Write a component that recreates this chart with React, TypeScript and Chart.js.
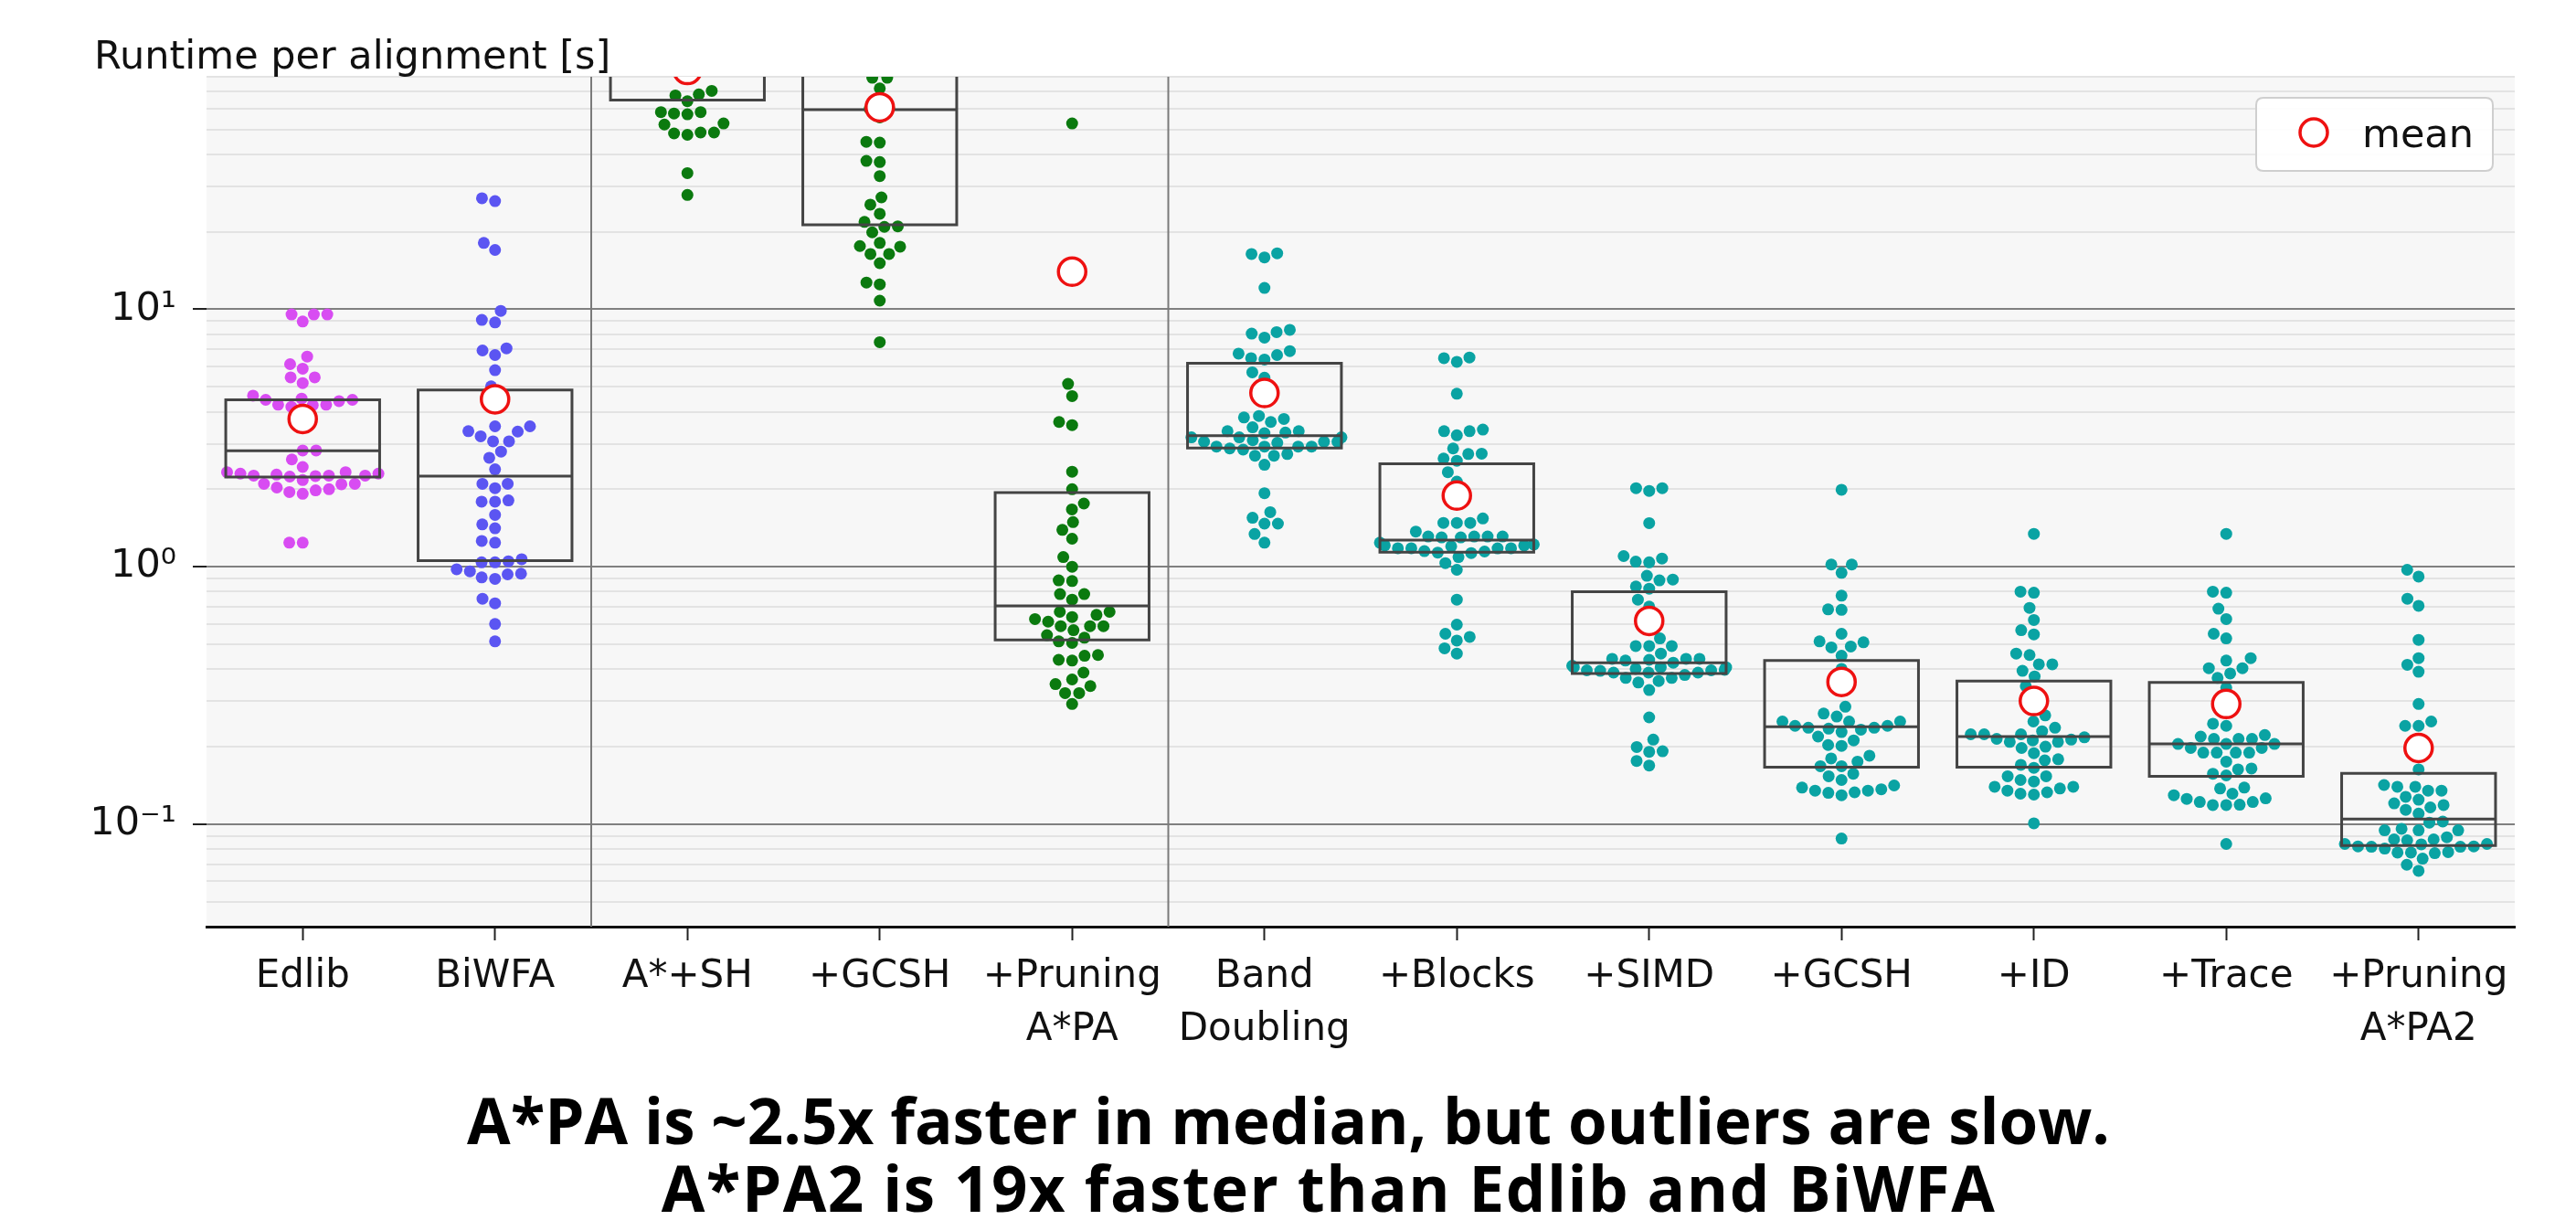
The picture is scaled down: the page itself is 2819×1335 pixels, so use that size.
import React, { useEffect, useRef } from 'react';
import { Chart, registerables } from 'chart.js';

Chart.register(...registerables);

// ---------------- data ----------------
const categories = [
  'Edlib', 'BiWFA', 'A*+SH', '+GCSH', '+Pruning\nA*PA', 'Band\nDoubling',
  '+Blocks', '+SIMD', '+GCSH', '+ID', '+Trace', '+Pruning\nA*PA2',
];

const edlib = [9.55, 9.55, 9.55, 8.96, 6.55, 6.12, 5.88, 5.44, 5.44, 5.17, 4.62, 4.5, 4.45, 4.45, 4.4, 4.26, 4.26, 4.24, 4.18, 3.93, 2.83, 2.83, 2.61, 2.44, 2.33, 2.33, 2.3, 2.3, 2.28, 2.26, 2.26, 2.26, 2.25, 2.24, 2.17, 2.1, 2.1, 2.09, 2.03, 2.0, 1.98, 1.95, 1.92, 1.24, 1.24];
const biwfa = [27.0, 26.3, 18.1, 17.0, 9.86, 9.09, 8.89, 7.05, 6.92, 6.64, 5.8, 5.02, 4.5, 3.51, 3.51, 3.36, 3.35, 3.21, 3.07, 3.07, 2.8, 2.65, 2.39, 2.1, 2.1, 2.02, 1.81, 1.79, 1.79, 1.59, 1.46, 1.41, 1.26, 1.24, 1.07, 1.05, 1.04, 1.04, 0.978, 0.96, 0.94, 0.934, 0.909, 0.897, 0.751, 0.721, 0.599, 0.513];
const astarSH = [70.5, 68.3, 67.7, 64.3, 58.3, 58.3, 57.6, 57.2, 52.7, 52.2, 48.6, 48.6, 48.2, 47.6, 33.8, 27.8];
const astarGCSH = [79.3, 79.3, 72.1, 60.4, 60.0, 55.6, 44.7, 44.4, 37.7, 37.3, 32.9, 27.2, 25.5, 23.5, 21.85, 21.0, 20.9, 19.9, 18.1, 17.6, 17.5, 16.4, 16.4, 15.1, 12.7, 12.5, 10.8, 7.45];
const astarPA = [52.7, 5.13, 4.6, 3.65, 3.55, 2.34, 2.0, 1.76, 1.67, 1.49, 1.39, 1.285, 1.09, 1.0, 0.885, 0.88, 0.783, 0.783, 0.745, 0.668, 0.668, 0.65, 0.638, 0.626, 0.612, 0.588, 0.588, 0.588, 0.567, 0.542, 0.53, 0.513, 0.506, 0.454, 0.451, 0.435, 0.432, 0.388, 0.365, 0.35, 0.344, 0.323, 0.323, 0.293];
const bandDoubling = [16.5, 16.4, 15.9, 12.1, 8.32, 8.15, 8.04, 7.76, 6.88, 6.73, 6.64, 6.46, 6.38, 5.69, 5.42, 3.85, 3.8, 3.75, 3.65, 3.48, 3.36, 3.36, 3.32, 3.3, 3.18, 3.18, 3.18, 3.1, 3.06, 3.06, 3.06, 3.03, 2.93, 2.93, 2.93, 2.93, 2.88, 2.85, 2.74, 2.7, 2.7, 2.49, 1.93, 1.63, 1.55, 1.47, 1.47, 1.34, 1.24];
const blocks = [6.5, 6.46, 6.25, 4.7, 3.41, 3.36, 3.36, 3.24, 2.88, 2.75, 2.74, 2.63, 2.58, 2.33, 2.14, 1.54, 1.48, 1.48, 1.48, 1.37, 1.31, 1.31, 1.31, 1.31, 1.3, 1.3, 1.24, 1.22, 1.21, 1.21, 1.2, 1.18, 1.18, 1.18, 1.178, 1.15, 1.146, 1.135, 1.13, 1.09, 1.033, 0.973, 0.745, 0.596, 0.549, 0.534, 0.517, 0.482, 0.46];
const simd = [2.02, 2.02, 1.97, 1.477, 1.1, 1.076, 1.047, 1.04, 0.922, 0.892, 0.885, 0.838, 0.822, 0.745, 0.7, 0.527, 0.492, 0.492, 0.492, 0.46, 0.439, 0.439, 0.439, 0.435, 0.432, 0.424, 0.4125, 0.407, 0.407, 0.407, 0.401, 0.398, 0.396, 0.396, 0.394, 0.388, 0.388, 0.388, 0.38, 0.37, 0.37, 0.36, 0.355, 0.332, 0.26, 0.213, 0.1995, 0.192, 0.191, 0.176, 0.169];
const gcsh2 = [1.99, 1.02, 1.02, 0.947, 0.772, 0.683, 0.68, 0.549, 0.513, 0.509, 0.49, 0.486, 0.451, 0.401, 0.35, 0.286, 0.269, 0.262, 0.2506, 0.2506, 0.2506, 0.241, 0.241, 0.237, 0.237, 0.235, 0.233, 0.228, 0.219, 0.2116, 0.203, 0.2015, 0.1845, 0.18, 0.175, 0.168, 0.168, 0.157, 0.1535, 0.1485, 0.1414, 0.1387, 0.1367, 0.135, 0.135, 0.133, 0.1324, 0.1296, 0.088];
const idOpt = [1.342, 0.8, 0.793, 0.692, 0.621, 0.567, 0.546, 0.46, 0.454, 0.418, 0.418, 0.394, 0.375, 0.344, 0.314, 0.2646, 0.2506, 0.237, 0.2297, 0.2235, 0.2235, 0.2235, 0.2175, 0.2145, 0.213, 0.2116, 0.2087, 0.2087, 0.2, 0.1977, 0.1888, 0.1787, 0.177, 0.17, 0.1656, 0.1535, 0.1535, 0.1485, 0.1465, 0.1398, 0.1398, 0.1376, 0.135, 0.133, 0.1314, 0.1303, 0.1008];
const trace = [1.342, 0.8, 0.793, 0.687, 0.626, 0.549, 0.527, 0.4416, 0.432, 0.4036, 0.4036, 0.385, 0.37, 0.339, 0.2457, 0.241, 0.222, 0.219, 0.2145, 0.2145, 0.2145, 0.205, 0.205, 0.205, 0.1977, 0.1977, 0.1897, 0.1897, 0.1897, 0.1897, 0.175, 0.1646, 0.1633, 0.157, 0.1547, 0.1387, 0.1376, 0.1314, 0.1296, 0.126, 0.1254, 0.122, 0.122, 0.119, 0.1187, 0.1187, 0.0838];
const astarPA2 = [0.973, 0.916, 0.751, 0.705, 0.52, 0.4416, 0.416, 0.391, 0.293, 0.2506, 0.241, 0.241, 0.1633, 0.142, 0.1398, 0.1398, 0.135, 0.135, 0.1278, 0.1245, 0.1205, 0.1187, 0.1162, 0.1137, 0.11, 0.1024, 0.1014, 0.096, 0.0947, 0.0947, 0.0947, 0.089, 0.0873, 0.0873, 0.0866, 0.0838, 0.0838, 0.0835, 0.082, 0.082, 0.0817, 0.0817, 0.0804, 0.0779, 0.0776, 0.0776, 0.0772, 0.0735, 0.0696, 0.0659];

const groups = [edlib, biwfa, astarSH, astarGCSH, astarPA, bandDoubling, blocks, simd, gcsh2, idOpt, trace, astarPA2];

const means = [3.75, 4.47, 85, 60.9, 14.0, 4.73, 1.89, 0.616, 0.357, 0.301, 0.293, 0.1977];
const q1s = [2.23, 1.056, 65.0, 21.3, 0.52, 2.89, 1.14, 0.385, 0.1665, 0.1665, 0.1535, 0.0827];
const medians = [2.82, 2.25, 95, 59.6, 0.705, 3.23, 1.27, 0.424, 0.239, 0.219, 0.205, 0.1047];
const q3s = [4.45, 4.86, 130, 120, 1.94, 6.17, 2.51, 0.8, 0.432, 0.36, 0.355, 0.1576];

const groupColors = ['#d84cf2', '#5b55f2', '#0b7a0f', '#0b7a0f', '#0b7a0f', '#0aa3a3', '#0aa3a3', '#0aa3a3', '#0aa3a3', '#0aa3a3', '#0aa3a3', '#0aa3a3'];

const yTickValues = [0.04, 0.05, 0.06, 0.07, 0.08, 0.09, 0.1, 0.2, 0.3, 0.4, 0.5, 0.6, 0.7, 0.8, 0.9, 1, 2, 3, 4, 5, 6, 7, 8, 9, 10, 20, 30, 40, 50, 60, 70, 80];
const yMajorValues = [0.1, 1, 10];
const yMajorLabels = ['10\u207B\u00B9', '10\u2070', '10\u00B9'];
const separatorPositions = [1.5, 4.5];
const yAxisTitle = 'Runtime per alignment [s]';
const legendLabel = 'mean';
const captionLines = [
  'A*PA is ~2.5x faster in median, but outliers are slow.',
  'A*PA2 is 19x faster than Edlib and BiWFA',
];

// ---------------- layout / style constants ----------------
const W = 2819;
const H = 1335;
const Y_MIN = 0.04;
const Y_MAX = 80;
const X_MIN = -0.5;
const X_MAX = 11.5;
const BOX_HALF = 0.4;
const DOT_R = 6.5;
const SWARM_R = 7;
const FONT = "'DejaVu Sans', sans-serif";

function majorIndex(v: number): number {
  return yMajorValues.findIndex((m) => Math.abs(v - m) / m < 1e-6);
}

// seaborn-like beeswarm in pixel space
function beeswarm(py: number[], r: number, half: number): number[] {
  const order = py.map((_, i) => i).sort((a, b) => py[b] - py[a]);
  const swarm: { x: number; y: number }[] = [];
  const out = new Array(py.length).fill(0);
  const d = 2 * r;
  for (const i of order) {
    const y = py[i];
    const neighbors: { x: number; y: number }[] = [];
    for (let k = swarm.length - 1; k >= 0; k--) {
      if (Math.abs(y - swarm[k].y) < d) neighbors.push(swarm[k]);
      else break;
    }
    const cands: number[] = [0];
    let leftFirst = true;
    for (const n of neighbors) {
      const dy = y - n.y;
      const dx = Math.sqrt(Math.max(d * d - dy * dy, 0)) * 1.05;
      if (leftFirst) cands.push(n.x - dx, n.x + dx);
      else cands.push(n.x + dx, n.x - dx);
      leftFirst = !leftFirst;
    }
    const sorted = cands
      .map((c, k) => ({ c, k }))
      .sort((a, b) => Math.abs(a.c) - Math.abs(b.c) || a.k - b.k);
    let chosen = sorted[sorted.length - 1].c;
    for (const s of sorted) {
      const ok = neighbors.every((n) => (n.x - s.c) ** 2 + (n.y - y) ** 2 >= d * d - 1e-6);
      if (ok) {
        chosen = s.c;
        break;
      }
    }
    swarm.push({ x: chosen, y });
    out[i] = Math.max(-half, Math.min(half, chosen));
  }
  return out;
}

const bgPlugin = {
  id: 'plotBg',
  beforeDraw(chart: any) {
    const { ctx, chartArea: a } = chart;
    ctx.save();
    ctx.fillStyle = '#f7f7f7';
    ctx.fillRect(a.left, a.top, a.right - a.left, a.bottom - a.top);
    ctx.restore();
  },
};

const textPlugin = {
  id: 'axisTitleLegend',
  afterDraw(chart: any) {
    const { ctx, chartArea: a } = chart;
    ctx.save();
    // y-axis title (horizontal, top-left)
    ctx.font = `43px ${FONT}`;
    ctx.fillStyle = '#111';
    ctx.textBaseline = 'alphabetic';
    ctx.textAlign = 'left';
    ctx.fillText(yAxisTitle, a.left - 123, a.top - 9);

    // legend box
    const bw = 259;
    const bh = 80;
    const bx = a.right - 24 - bw;
    const by = a.top + 23;
    const rr = 8;
    ctx.beginPath();
    ctx.moveTo(bx + rr, by);
    ctx.lineTo(bx + bw - rr, by);
    ctx.quadraticCurveTo(bx + bw, by, bx + bw, by + rr);
    ctx.lineTo(bx + bw, by + bh - rr);
    ctx.quadraticCurveTo(bx + bw, by + bh, bx + bw - rr, by + bh);
    ctx.lineTo(bx + rr, by + bh);
    ctx.quadraticCurveTo(bx, by + bh, bx, by + bh - rr);
    ctx.lineTo(bx, by + rr);
    ctx.quadraticCurveTo(bx, by, bx + rr, by);
    ctx.closePath();
    ctx.fillStyle = 'rgba(255,255,255,0.9)';
    ctx.fill();
    ctx.lineWidth = 2;
    ctx.strokeStyle = '#cfcfcf';
    ctx.stroke();

    ctx.beginPath();
    ctx.arc(bx + 63, by + 38, 15, 0, Math.PI * 2);
    ctx.fillStyle = '#ffffff';
    ctx.fill();
    ctx.lineWidth = 3.5;
    ctx.strokeStyle = '#ee1111';
    ctx.stroke();

    ctx.fillStyle = '#111';
    ctx.font = `43px ${FONT}`;
    ctx.fillText(legendLabel, bx + 116, by + 54);
    ctx.restore();
  },
};

export default function App() {
  const ref = useRef<HTMLCanvasElement>(null);

  useEffect(() => {
    const canvas = ref.current;
    if (!canvas) return;

    const dotSets = groups.map((vals, gi) => ({
      label: categories[gi],
      data: vals.map((v) => ({ x: gi, y: v })),
      pointRadius: DOT_R,
      pointHoverRadius: DOT_R,
      pointBackgroundColor: groupColors[gi],
      pointBorderWidth: 0,
      showLine: false,
      order: 3,
    }));

    const boxData: any[] = [];
    const medData: any[] = [];
    categories.forEach((_, i) => {
      const l = i - BOX_HALF;
      const r = i + BOX_HALF;
      boxData.push(
        { x: l, y: q1s[i] }, { x: l, y: q3s[i] }, { x: r, y: q3s[i] },
        { x: r, y: q1s[i] }, { x: l, y: q1s[i] }, { x: i, y: null },
      );
      medData.push({ x: l, y: medians[i] }, { x: r, y: medians[i] }, { x: i, y: null });
    });

    const sepData: any[] = [];
    separatorPositions.forEach((s) => {
      sepData.push({ x: s, y: Y_MIN }, { x: s, y: Y_MAX }, { x: s, y: null });
    });

    const lineCommon = {
      showLine: true,
      pointRadius: 0,
      pointHoverRadius: 0,
      fill: false,
      spanGaps: false,
      tension: 0,
    };

    const datasets: any[] = [
      ...dotSets,
      { ...lineCommon, label: 'box', data: boxData, borderColor: '#444444', borderWidth: 3, borderJoinStyle: 'miter', borderCapStyle: 'square', order: 1 },
      { ...lineCommon, label: 'median', data: medData, borderColor: '#444444', borderWidth: 3, order: 1 },
      { ...lineCommon, label: 'sep', data: sepData, borderColor: '#7a7a7a', borderWidth: 2, order: 5 },
      {
        label: 'mean',
        data: means.map((m, i) => ({ x: i, y: m })),
        pointRadius: 15,
        pointHoverRadius: 15,
        pointBackgroundColor: '#ffffff',
        pointBorderColor: '#ee1111',
        pointBorderWidth: 3.5,
        showLine: false,
        order: 0,
      },
    ];

    const chart = new Chart(canvas, {
      type: 'scatter',
      data: { datasets },
      options: {
        animation: false,
        responsive: false,
        maintainAspectRatio: false,
        devicePixelRatio: 1,
        events: [],
        layout: { padding: { top: 84, right: 67, bottom: 171, left: 0 } },
        plugins: {
          legend: { display: false },
          tooltip: { enabled: false },
          title: { display: false },
        },
        scales: {
          x: {
            type: 'linear',
            min: X_MIN,
            max: X_MAX,
            offset: false,
            afterBuildTicks: (s: any) => {
              s.ticks = categories.map((_, i) => ({ value: i }));
            },
            afterFit: (s: any) => {
              s.height = 150;
            },
            ticks: {
              autoSkip: false,
              maxRotation: 0,
              minRotation: 0,
              padding: 12,
              color: '#111',
              font: { family: FONT, size: 42, lineHeight: 1.36 },
              callback: (_v: any, idx: number) => categories[idx].split('\n'),
            },
            grid: {
              display: true,
              drawOnChartArea: false,
              drawTicks: true,
              tickLength: 15,
              tickColor: '#222',
              tickWidth: 2,
            },
            border: { display: true, color: '#111', width: 3 },
          },
          y: {
            type: 'logarithmic',
            min: Y_MIN,
            max: Y_MAX,
            afterBuildTicks: (s: any) => {
              s.ticks = yTickValues.map((v) => ({ value: v, major: majorIndex(v) >= 0 }));
            },
            afterFit: (s: any) => {
              s.width = 226;
            },
            ticks: {
              autoSkip: false,
              padding: 18,
              color: '#111',
              font: { family: FONT, size: 43 },
              callback: (v: any) => {
                const k = majorIndex(Number(v));
                return k >= 0 ? yMajorLabels[k] : '';
              },
            },
            grid: {
              display: true,
              drawOnChartArea: true,
              drawTicks: true,
              tickLength: 15,
              tickWidth: 2,
              color: (ctx: any) => (ctx.tick && majorIndex(ctx.tick.value) >= 0 ? '#808080' : '#e3e3e3'),
              lineWidth: 2,
              tickColor: (ctx: any) => (ctx.tick && majorIndex(ctx.tick.value) >= 0 ? '#222' : 'rgba(0,0,0,0)'),
            },
            border: { display: false },
          },
        },
      },
      plugins: [bgPlugin, textPlugin],
    } as any);

    // swarm layout computed through the chart's own scales
    const xs: any = chart.scales.x;
    const ys: any = chart.scales.y;
    const unit = xs.getPixelForValue(1) - xs.getPixelForValue(0);
    groups.forEach((vals, gi) => {
      const off = beeswarm(vals.map((v) => ys.getPixelForValue(v)), SWARM_R, BOX_HALF * unit);
      (chart.data.datasets[gi] as any).data = vals.map((v, k) => ({ x: gi + off[k] / unit, y: v }));
    });
    chart.update();

    return () => chart.destroy();
  }, []);

  const capStyle: React.CSSProperties = {
    position: 'absolute',
    width: 2400,
    textAlign: 'center',
    fontFamily: "'Open Sans', 'Noto Sans', sans-serif",
    fontWeight: 700,
    fontSize: 69,
    lineHeight: '69px',
    color: '#000',
    whiteSpace: 'nowrap',
  };

  return (
    <div style={{ position: 'fixed', left: 0, top: 0, width: W, height: H, background: '#fff', overflow: 'hidden' }}>
      <canvas ref={ref} width={W} height={H} style={{ position: 'absolute', left: 0, top: 0, width: W, height: H }} />
      <div style={{ ...capStyle, left: 1410 - 1200, top: 1191 }}>{captionLines[0]}</div>
      <div style={{ ...capStyle, left: 1454 - 1200, top: 1265, letterSpacing: 1.5 }}>{captionLines[1]}</div>
    </div>
  );
}
